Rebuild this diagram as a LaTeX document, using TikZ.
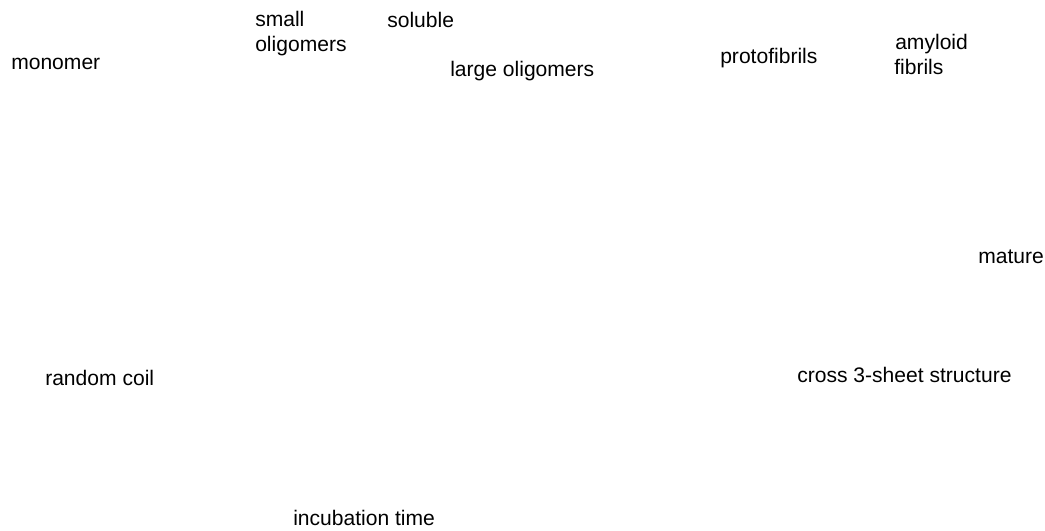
\documentclass[tikz,border=0pt]{standalone}
\usepackage{fontspec}
\setmainfont{Liberation Sans}
\tikzset{lbl/.style={anchor=base west,inner sep=0pt,font=\fontsize{15.8}{18}\selectfont}}
\begin{document}
\begin{tikzpicture}[x=0.75pt,y=-0.75pt]

        \useasboundingbox (0,0) rectangle (1045,531);

        \node[lbl] (monomer) at (11,70) {monomer};
        \node[lbl] (small) at (255,27) {small};
        \node[lbl] (smallolig) at (255,52) {oligomers};
        \node[lbl] (soluble) at (387,28) {soluble};
        \node[lbl] (largeolig) at (450,77) {large oligomers};
        \node[lbl] (proto) at (720,64) {protofibrils};
        \node[lbl] (amyloid) at (895,50) {amyloid};
        \node[lbl] (fibrils) at (894,75) {fibrils};

        \node[lbl] (mature) at (978,263) {mature};
        \node[lbl] (coil) at (45,385) {random coil};
        \node[lbl] (cross) at (797,382) {cross 3-sheet structure};

        \node[lbl] (time) at (293,525) {incubation time};
    \end{tikzpicture}
\end{document}
